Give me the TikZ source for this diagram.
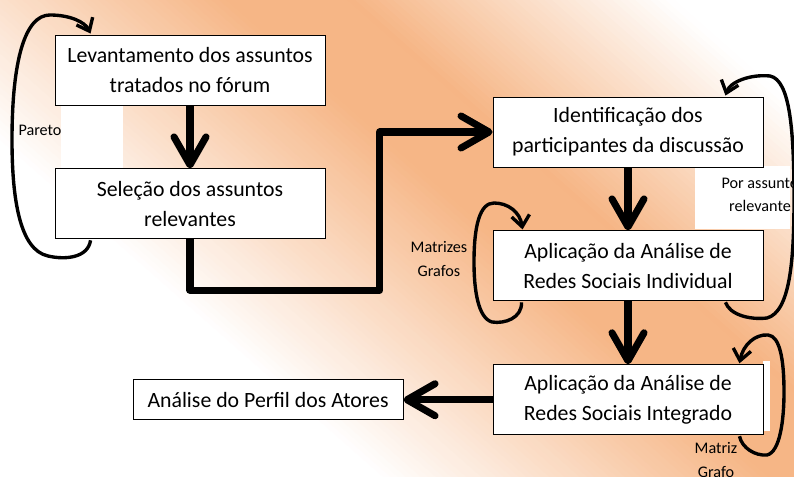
\documentclass[tikz,border=0pt]{standalone}
\usepackage{fontspec}
\setmainfont{Carlito}
\usepackage{tikz}
\usetikzlibrary{arrows.meta,positioning,calc}
\definecolor{bgpeach}{RGB}{246,182,134}

\begin{document}
\begin{tikzpicture}[
  x=0.025cm, y=-0.025cm,
  font=\fontsize{15.5}{21.5}\selectfont,
  stage/.style={draw, line width=0.6pt, fill=white, align=center, minimum width=6.75cm, minimum height=1.75cm, inner sep=2pt},
  result/.style={stage, minimum height=1cm},
  note/.style={align=center, font=\fontsize{11.5}{16.5}\selectfont},
  flow/.style={-{Straight Barb[length=0.7cm, width=0.8cm, round]}, line width=5pt, line join=round},
  selfloop/.style={-{Straight Barb[length=0.28cm, width=0.45cm]}, line width=2.4pt},
  node distance=1.575cm and 2.225cm
]
\useasboundingbox (0,0) rectangle (794,477);
\begin{scope}
  \clip (0,0) rectangle (794,477);
  \fill[white] (0,0) rectangle (794,477);
  \foreach \a in {-115,-110,...,440} {
    \pgfmathtruncatemacro\p{\a<150 ? max(0,(\a+112.5)/2.6) : (\a<230 ? 100 : max(0,(442.5-\a)/2.1))}
    \fill[bgpeach!\p!white] (0.66*\a-1125,-0.75*\a-990) -- (0.66*\a+1125,-0.75*\a+990)
      -- (0.66*\a+1128.7,-0.75*\a+985.8) -- (0.66*\a-1121.3,-0.75*\a-994.2) -- cycle;
  }
\end{scope}
\fill[white] (61,105) rectangle (123,168);
\fill[white] (695,166) rectangle (790,229);
\fill[white] (763,361) rectangle (770,431);

\node[stage] (lev) at (190,70) {Levantamento dos assuntos\\tratados no fórum};
\node[stage, below=of lev] (sel) {Seleção dos assuntos\\relevantes};
\node[stage] (ident) at (628,132) {Identificação dos\\participantes da discussão};
\node[stage, below=of ident] (indiv) {Aplicação da Análise de\\Redes Sociais Individual};
\node[stage, below=of indiv] (integ) {Aplicação da Análise de\\Redes Sociais Integrado};
\node[result, left=of integ] (perfil) {Análise do Perfil dos Atores};

\node[note] (pareto) at (40,130) {Pareto};
\node[note] (matrizes) at (439,259) {Matrizes\\Grafos};
\node[note] (porassunto) at (760,195) {Por assunto\\relevante};
\node[note] (matriz) at (716,460) {Matriz\\Grafo};

\draw[flow] (lev) -- (sel);
\draw[flow] (sel.south) -- ++(0,51) -| ($(ident.west)+(-113,0)$) -- (ident.west);
\draw[flow] (ident) -- (indiv);
\draw[flow] (indiv) -- (integ);
\draw[flow] (integ) -- (perfil);

\draw[selfloop] ($(sel.south west)+(36,1)$) .. controls (88,258) and (65,260) .. (48,256)
  .. controls (20,250) and (12,200) .. (12,140) .. controls (12,60) and (25,15) .. (50,15)
  .. controls (70,15) and (85,22) .. ($(lev.north west)+(36,-1)$);
\draw[selfloop] ($(indiv.south west)+(29,1)$) .. controls (522,318) and (505,324) .. (492,322)
  .. controls (478,318) and (474,290) .. (474,262) .. controls (474,225) and (480,203) .. (494,203)
  .. controls (508,203) and (520,212) .. ($(indiv.north west)+(30,-1)$);
\draw[selfloop] ($(indiv.south east)+(-38,1)$) .. controls (730,315) and (750,320) .. (767,318)
  .. controls (790,312) and (794,260) .. (794,200) .. controls (794,130) and (790,80) .. (770,76)
  .. controls (750,74) and (730,82) .. ($(ident.north east)+(-38,-1)$);
\draw[selfloop] ($(integ.south east)+(-24,1)$) .. controls (742,448) and (755,456) .. (767,455)
  .. controls (780,452) and (784,420) .. (784,392) .. controls (784,360) and (780,336) .. (768,335)
  .. controls (755,334) and (743,345) .. ($(integ.north east)+(-24,-1)$);
\end{tikzpicture}
\end{document}
